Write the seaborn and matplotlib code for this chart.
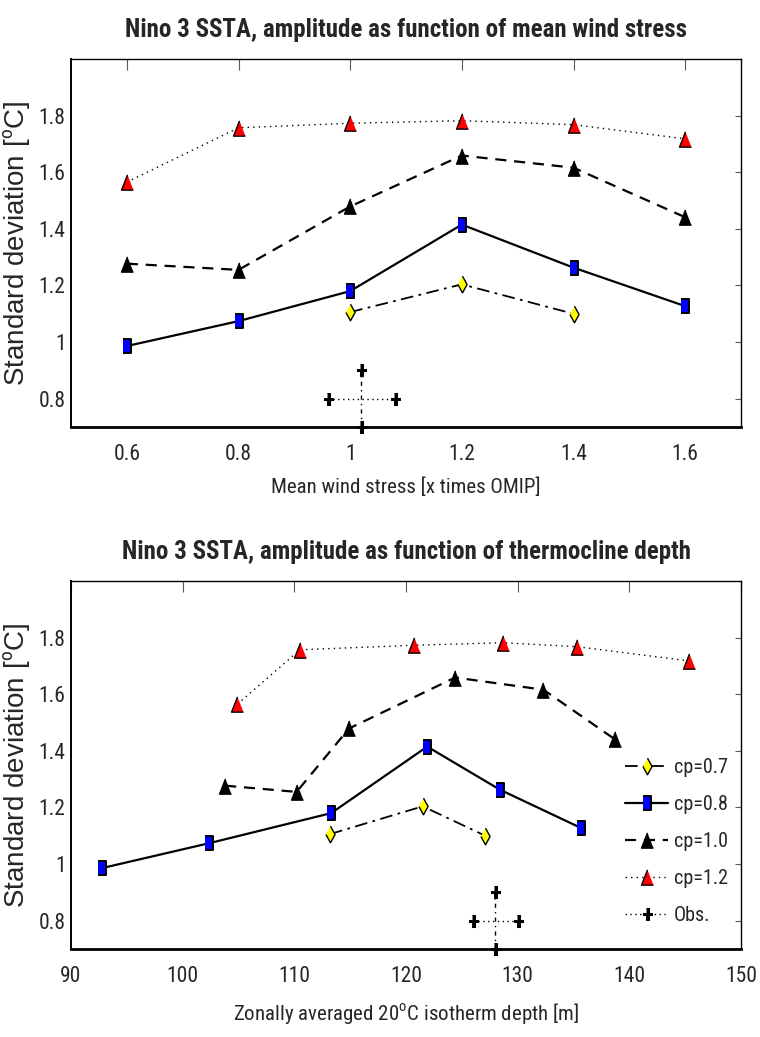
import matplotlib
matplotlib.use("Agg")
import matplotlib.pyplot as plt
import seaborn as sns

# ---------------- data ----------------
wind = [0.6, 0.8, 1.0, 1.2, 1.4, 1.6]
wind_cp07 = [1.0, 1.2, 1.4]

std_cp07 = [1.106, 1.204, 1.100]
std_cp08 = [0.986, 1.074, 1.180, 1.415, 1.263, 1.127]
std_cp10 = [1.277, 1.255, 1.479, 1.659, 1.616, 1.441]
std_cp12 = [1.565, 1.757, 1.773, 1.782, 1.768, 1.718]

depth_cp07 = [113.2, 121.5, 127.1]
depth_cp08 = [92.8, 102.4, 113.3, 121.9, 128.4, 135.7]
depth_cp10 = [103.8, 110.2, 114.9, 124.4, 132.3, 138.7]
depth_cp12 = [104.9, 110.5, 120.7, 128.7, 135.3, 145.3]

obs_wind, obs_wind_err = 1.02, 0.06
obs_depth, obs_depth_err = 128.0, 2.0
obs_std, obs_std_err = 0.8, 0.1

labels = ["cp=0.7", "cp=0.8", "cp=1.0", "cp=1.2", "Obs."]

titles = ["Nino 3 SSTA, amplitude as function of mean wind stress",
          "Nino 3 SSTA, amplitude as function of thermocline depth"]
xlabels = ["Mean wind stress [x times OMIP]",
           r"Zonally averaged 20$^{\mathrm{o}}$C isotherm depth [m]"]
ylabel = r"Standard deviation [$^{\mathrm{o}}$C]"
wind_ticklabels = ["0.6", "0.8", "1", "1.2", "1.4", "1.6"]
std_ticklabels = ["0.8", "1", "1.2", "1.4", "1.6", "1.8"]

# ---------------- style ----------------
sns.set_style("white")
NARROW = ["Roboto Condensed", "Liberation Sans", "DejaVu Sans"]
plt.rcParams["font.family"] = NARROW
plt.rcParams["mathtext.fontset"] = "custom"
plt.rcParams["mathtext.rm"] = "Roboto Condensed"

tri = [(0, 1), (-0.78, -1), (0.78, -1)]
sq = [(-0.68, -1), (0.68, -1), (0.68, 1), (-0.68, 1)]
dia = [(0, 1), (0.55, 0), (0, -1), (-0.55, 0)]
tx, ty, w = 0.24, 0.2, 0.72
plus = [(-tx, 1), (tx, 1), (tx, ty), (w, ty), (w, -ty), (tx, -ty), (tx, -1),
        (-tx, -1), (-tx, -ty), (-w, -ty), (-w, ty), (-tx, ty)]

fig = plt.figure(figsize=(7.6, 10.37), dpi=100)
W, H = 760.0, 1037.0
ax1 = fig.add_axes([71 / W, 1 - 427 / H, 670 / W, 368 / H])
ax2 = fig.add_axes([71 / W, 1 - 949 / H, 670 / W, 368 / H])

common = dict(estimator=None, errorbar=None, sort=False, color="k")


def draw(ax, x07, x08, x10, x12, ox, oxe):
    sns.lineplot(x=x07, y=std_cp07, ax=ax, lw=1.3,
                 linestyle=(0, (7, 3, 1.5, 3)), marker=dia, markersize=12,
                 markerfacecolor="#ffff00", markeredgecolor="k",
                 markeredgewidth=1.0, label=labels[0], **common)
    sns.lineplot(x=x08, y=std_cp08, ax=ax, lw=1.6,
                 linestyle="-", marker=sq, markersize=9.5,
                 markerfacecolor="#0000ff", markeredgecolor="k",
                 markeredgewidth=1.4, label=labels[1], **common)
    sns.lineplot(x=x10, y=std_cp10, ax=ax, lw=1.6,
                 linestyle=(0, (5, 3.5)), marker=tri, markersize=11,
                 markerfacecolor="k", markeredgecolor="k",
                 markeredgewidth=1.0, label=labels[2], **common)
    sns.lineplot(x=x12, y=std_cp12, ax=ax, lw=1.0,
                 linestyle=(0, (1, 3)), marker=tri, markersize=11,
                 markerfacecolor="#ff0000", markeredgecolor="k",
                 markeredgewidth=1.0, label=labels[3], **common)
    # observations: cross of error bars
    sns.lineplot(x=[ox - oxe, ox + oxe], y=[obs_std, obs_std], ax=ax,
                 lw=1.0, linestyle=(0, (1, 2.5)), marker=plus,
                 markersize=9, markerfacecolor="k", markeredgecolor="k",
                 label=labels[4], **common)
    sns.lineplot(x=[ox, ox], y=[obs_std - obs_std_err, obs_std + obs_std_err],
                 ax=ax, lw=1.0, linestyle=(0, (3, 3, 1, 3)),
                 marker=plus, markersize=9, markerfacecolor="k",
                 markeredgecolor="k", clip_on=False, **common)
    ax.set_ylim(0.7, 2.0)
    ax.set_yticks([0.8, 1.0, 1.2, 1.4, 1.6, 1.8])
    ax.set_yticklabels(std_ticklabels)
    ax.tick_params(axis="both", which="both", direction="in", top=True,
                   right=True, labelsize=15.5, color="0.35", width=0.8)
    ax.tick_params(axis="x", length=8, pad=12)
    ax.tick_params(axis="y", length=4.5, pad=4)
    for s in ["top", "right"]:
        ax.spines[s].set_linewidth(1.0)
        ax.spines[s].set_color("k")
    ax.spines["left"].set_linewidth(1.4)
    ax.spines["left"].set_color("k")
    ax.spines["bottom"].set_linewidth(2.0)
    ax.spines["bottom"].set_color("k")
    ax.set_ylabel(ylabel, family=["Liberation Sans", "DejaVu Sans"],
                  fontsize=20, labelpad=4)


draw(ax1, wind_cp07, wind, wind, wind, obs_wind, obs_wind_err)
draw(ax2, depth_cp07, depth_cp08, depth_cp10, depth_cp12, obs_depth, obs_depth_err)

ax1.set_xlim(0.5, 1.7)
ax1.set_xticks(wind)
ax1.set_xticklabels(wind_ticklabels)
ax2.set_xlim(90, 150)
ax2.set_xticks([90, 100, 110, 120, 130, 140, 150])

ax1.get_legend().remove()
ax1.set_xlabel(xlabels[0], fontsize=15, labelpad=9)
ax2.set_xlabel(xlabels[1], fontsize=15, labelpad=10)

for ax, t in zip([ax1, ax2], titles):
    ax.set_title(t, fontsize=18, fontweight="bold", pad=16)

h, l = ax2.get_legend_handles_labels()
ax2.legend(h, l, loc="center left", bbox_to_anchor=(0.827, 0.292),
           frameon=False, fontsize=14.5, borderpad=0, borderaxespad=0,
           handlelength=2.14, handletextpad=0.3, labelspacing=0.9,
           numpoints=1)

fig.savefig("out.png", dpi=100)
